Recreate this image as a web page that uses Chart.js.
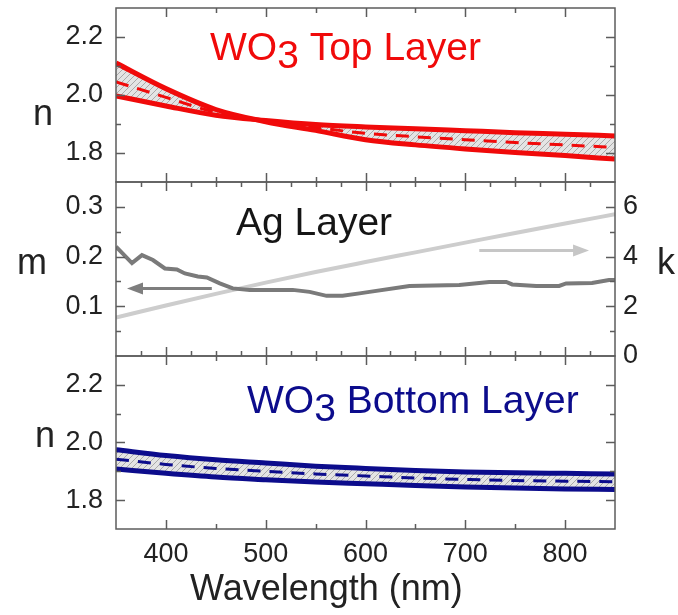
<!DOCTYPE html>
<html>
<head>
<meta charset="utf-8">
<script src="https://cdn.jsdelivr.net/npm/chart.js@4.4.0/dist/chart.umd.min.js"></script>
<style>
  html, body { margin: 0; padding: 0; background: #fff; }
  #wrap { position: relative; width: 678px; height: 615px; }
  #wrap canvas { position: absolute; left: 0; top: 0; }
</style>
</head>
<body>
<div id="wrap">
  <canvas id="topChart" width="678" height="615"></canvas>
  <canvas id="agChart" width="678" height="615"></canvas>
  <canvas id="bottomChart" width="678" height="615"></canvas>
</div>
<script>
// wavelength grid (nm) and tick labels
var wavelength = [350, 400, 450, 500, 550, 600, 650, 700, 750, 800, 850];
var wavelengthTicks = [400, 500, 600, 700, 800];
var nTicks = [1.8, 2.0, 2.2];
var mTicks = [0.1, 0.2, 0.3];
var kTicks = [0, 2, 4, 6];

// WO3 top layer: n, two fit bounds + mean
var topBoundA = [2.110, 2.022, 1.950, 1.908, 1.878, 1.846, 1.828, 1.814, 1.802, 1.791, 1.779];
var topBoundB = [1.997, 1.962, 1.930, 1.912, 1.898, 1.890, 1.884, 1.877, 1.870, 1.865, 1.859];
var topMean = [2.045, 1.992, 1.940, 1.910, 1.888, 1.868, 1.856, 1.846, 1.836, 1.828, 1.819];

// WO3 bottom layer
var botUpper = [1.975, 1.955, 1.940, 1.929, 1.918, 1.910, 1.903, 1.898, 1.895, 1.893, 1.891];
var botLower = [1.908, 1.893, 1.880, 1.871, 1.863, 1.857, 1.851, 1.846, 1.842, 1.839, 1.837];
var botMean = [1.942, 1.924, 1.910, 1.900, 1.891, 1.884, 1.877, 1.872, 1.868, 1.866, 1.864];

// Ag layer: m (left axis) and k (right axis)
var agWavelength = [350, 366, 376, 387, 399, 411, 419, 432, 441, 454, 467, 484, 527, 544, 561, 577, 594, 604, 644, 694, 724, 741, 747, 771, 794, 801, 827, 844, 850];
var agM = [0.220, 0.187, 0.203, 0.193, 0.176, 0.174, 0.166, 0.160, 0.158, 0.146, 0.136, 0.133, 0.133, 0.129, 0.121, 0.121, 0.126, 0.129, 0.141, 0.143, 0.149, 0.149, 0.144, 0.141, 0.141, 0.146, 0.147, 0.153, 0.153];
var agK = [1.55, 2.03, 2.50, 2.95, 3.38, 3.78, 4.17, 4.56, 4.95, 5.33, 5.70];

// the two arrows (wavelength from -> to, at axis value)
var mArrow = { from: 446, to: 361, value: 0.136 };
var kArrow = { from: 714, to: 824, value: 4.24 };

var FONT = "'Liberation Sans', Arial, sans-serif";
var RED = '#f00a0a';
var NAVY = '#0c0c8c';

function pts(xs, ys) {
    return xs.map(function (x, i) { return { x: x, y: ys[i] }; });
}

function hatch() {
    var c = document.createElement('canvas');
    c.width = 6; c.height = 6;
    var g = c.getContext('2d');
    g.fillStyle = '#e4e4e4';
    g.fillRect(0, 0, 6, 6);
    g.strokeStyle = '#a9a9a9';
    g.lineWidth = 1;
    g.beginPath();
    g.moveTo(0, 6); g.lineTo(6, 0);
    g.moveTo(-1, 1); g.lineTo(1, -1);
    g.moveTo(5, 7); g.lineTo(7, 5);
    g.stroke();
    return g.createPattern(c, 'repeat');
}

// frame + inward ticks on all four sides
var frameTicks = {
    id: 'frameTicks',
    afterDatasetsDraw: function (chart, args, o) {
        var ctx = chart.ctx, a = chart.chartArea;
        var sx = chart.scales.x, sy = chart.scales.y, sr = chart.scales.y2 || sy;
        ctx.save();
        ctx.strokeStyle = '#5c5c5c';
        ctx.lineWidth = 1.5;
        ctx.beginPath();
        var v, p, len, i, n;
        n = Math.round((sx.max - sx.min) / o.xMinor);
        for (i = 1; i < n; i++) {
            v = sx.min + i * o.xMinor;
            p = Math.round(sx.getPixelForValue(v)) + 0.5;
            len = (v % 100 === 0) ? 9 : 5;
            ctx.moveTo(p, a.top); ctx.lineTo(p, a.top + len);
            ctx.moveTo(p, a.bottom); ctx.lineTo(p, a.bottom - len);
        }
        function side(scale, step, major, x0, dir) {
            var cnt = Math.round((scale.max - scale.min) / step);
            for (var j = 1; j < cnt; j++) {
                var val = scale.min + j * step;
                var isMajor = major.some(function (m) { return Math.abs(m - val) < 1e-6; });
                var py = Math.round(scale.getPixelForValue(val)) + 0.5;
                var l = isMajor ? 9 : 5;
                ctx.moveTo(x0, py); ctx.lineTo(x0 + dir * l, py);
            }
        }
        side(sy, o.yMinor, o.yMajor, a.left, 1);
        side(sr, o.rMinor || o.yMinor, o.rMajor || o.yMajor, a.right, -1);
        ctx.stroke();
        ctx.strokeRect(a.left, a.top, a.right - a.left, a.bottom - a.top);
        ctx.restore();
    }
};

// free text (panel names, axis letters)
var texts = {
    id: 'texts',
    afterDraw: function (chart, args, o) {
        var ctx = chart.ctx;
        ctx.save();
        ctx.textBaseline = 'alphabetic';
        ctx.textAlign = 'left';
        (o.items || []).forEach(function (t) {
            var x = t.x;
            t.parts.forEach(function (part) {
                ctx.font = (part.size || t.size) + 'px ' + FONT;
                ctx.fillStyle = t.color;
                ctx.fillText(part.s, x, t.y + (part.dy || 0));
                x += ctx.measureText(part.s).width;
            });
        });
        ctx.restore();
    }
};

// arrows in data coordinates
var arrows = {
    id: 'arrows',
    afterDatasetsDraw: function (chart, args, o) {
        var ctx = chart.ctx, sx = chart.scales.x;
        (o.items || []).forEach(function (ar) {
            var sc = chart.scales[ar.axis];
            var x0 = sx.getPixelForValue(ar.from), x1 = sx.getPixelForValue(ar.to);
            var y = sc.getPixelForValue(ar.value);
            var dir = x1 > x0 ? 1 : -1;
            ctx.save();
            ctx.strokeStyle = ar.color; ctx.fillStyle = ar.color;
            ctx.lineWidth = 3;
            ctx.beginPath();
            ctx.moveTo(x0, y); ctx.lineTo(x1 - dir * 12, y);
            ctx.stroke();
            ctx.beginPath();
            ctx.moveTo(x1, y);
            ctx.lineTo(x1 - dir * 16, y - 6);
            ctx.lineTo(x1 - dir * 16, y + 6);
            ctx.closePath();
            ctx.fill();
            ctx.restore();
        });
    }
};

function fixedTicks(arr) {
    return function (scale) { scale.ticks = arr.map(function (v) { return { value: v }; }); };
}

function noPad(s) {
    s.paddingTop = 0; s.paddingBottom = 0; s.paddingLeft = 0; s.paddingRight = 0;
}

function xScale(show) {
    return {
        type: 'linear', min: 350, max: 850, display: show,
        grid: { display: false, drawTicks: false }, border: { display: false },
        afterBuildTicks: fixedTicks(wavelengthTicks),
        afterFit: function (s) { if (show) { s.height = 86; } noPad(s); },
        ticks: { autoSkip: false, maxRotation: 0, padding: 9, color: '#222', font: { family: FONT, size: 27 } }
    };
}

function yScale(min, max, tickArr, digits) {
    return {
        type: 'linear', min: min, max: max,
        grid: { display: false, drawTicks: false }, border: { display: false },
        afterBuildTicks: fixedTicks(tickArr),
        afterFit: function (s) { s.width = 116; noPad(s); },
        ticks: {
            autoSkip: false, padding: 13, color: '#222', font: { family: FONT, size: 27 },
            callback: function (v) { return Number(v).toFixed(digits); }
        }
    };
}

function baseOptions(pad, scales, plug) {
    return {
        responsive: false, animation: false, devicePixelRatio: 1,
        layout: { padding: pad },
        scales: scales,
        plugins: Object.assign({
            legend: { display: false }, tooltip: { enabled: false },
            filler: { drawTime: 'beforeDatasetsDraw' }
        }, plug)
    };
}

function bandSets(upper, lower, mean, color) {
    return [
        { data: pts(wavelength, upper), borderColor: color, borderWidth: 5, pointRadius: 0,
          cubicInterpolationMode: 'monotone', fill: '+1', backgroundColor: hatch() },
        { data: pts(wavelength, lower), borderColor: color, borderWidth: 5, pointRadius: 0,
          cubicInterpolationMode: 'monotone', fill: false },
        { data: pts(wavelength, mean), borderColor: color, borderWidth: 3, pointRadius: 0,
          borderDash: [13, 9], cubicInterpolationMode: 'monotone', fill: false }
    ];
}

// top panel
new Chart(document.getElementById('topChart'), {
    type: 'line',
    data: { datasets: bandSets(topBoundA, topBoundB, topMean, RED) },
    options: baseOptions({ left: 0, right: 63, top: 8, bottom: 433 },
        { x: xScale(false), y: yScale(1.7, 2.3, nTicks, 1) },
        {
            frameTicks: { xMinor: 50, yMinor: 0.1, yMajor: nTicks },
            texts: { items: [
                { x: 33, y: 125, size: 36, color: '#222', parts: [{ s: 'n' }] },
                { x: 210, y: 60, size: 39, color: RED, parts: [{ s: 'WO' }, { s: '3', dy: 8 }, { s: ' Top Layer' }] }
            ] }
        }),
    plugins: [frameTicks, texts]
});

// Ag panel
var agOpts = baseOptions({ left: 0, right: 0, top: 182, bottom: 259 },
    {
        x: xScale(false),
        y: yScale(0, 0.35, mTicks, 1),
        y2: {
            type: 'linear', position: 'right', min: 0, max: 7,
            grid: { display: false, drawTicks: false }, border: { display: false },
            afterBuildTicks: fixedTicks(kTicks),
            afterFit: function (s) { s.width = 63; noPad(s); },
            ticks: { autoSkip: false, padding: 8, color: '#222', font: { family: FONT, size: 27 } }
        }
    },
    {
        frameTicks: { xMinor: 25, yMinor: 0.05, yMajor: mTicks, rMinor: 1, rMajor: kTicks },
        texts: { items: [
            { x: 17, y: 274, size: 36, color: '#222', parts: [{ s: 'm' }] },
            { x: 657, y: 274, size: 36, color: '#222', parts: [{ s: 'k' }] },
            { x: 236, y: 235, size: 39, color: '#151515', parts: [{ s: 'Ag Layer' }] }
        ] },
        arrows: { items: [
            { axis: 'y', from: mArrow.from, to: mArrow.to, value: mArrow.value, color: '#7e7e7e' },
            { axis: 'y2', from: kArrow.from, to: kArrow.to, value: kArrow.value, color: '#c6c6c6' }
        ] }
    });
new Chart(document.getElementById('agChart'), {
    type: 'line',
    data: { datasets: [
        { data: pts(agWavelength, agM), yAxisID: 'y', borderColor: '#7a7a7a', borderWidth: 4,
          pointRadius: 0, tension: 0, fill: false },
        { data: pts(wavelength, agK), yAxisID: 'y2', borderColor: '#cdcdcd', borderWidth: 4,
          pointRadius: 0, cubicInterpolationMode: 'monotone', fill: false }
    ] },
    options: agOpts,
    plugins: [frameTicks, texts, arrows]
});

// bottom panel
new Chart(document.getElementById('bottomChart'), {
    type: 'line',
    data: { datasets: bandSets(botUpper, botLower, botMean, NAVY) },
    options: baseOptions({ left: 0, right: 63, top: 356, bottom: 0 },
        { x: xScale(true), y: yScale(1.7, 2.3, nTicks, 1) },
        {
            frameTicks: { xMinor: 50, yMinor: 0.1, yMajor: nTicks },
            texts: { items: [
                { x: 35, y: 447, size: 36, color: '#222', parts: [{ s: 'n' }] },
                { x: 247, y: 413, size: 39, color: NAVY, parts: [{ s: 'WO' }, { s: '3', dy: 8 }, { s: ' Bottom Layer' }] },
                { x: 190, y: 600, size: 36, color: '#222', parts: [{ s: 'Wavelength (nm)' }] }
            ] }
        }),
    plugins: [frameTicks, texts]
});
</script>
</body>
</html>
